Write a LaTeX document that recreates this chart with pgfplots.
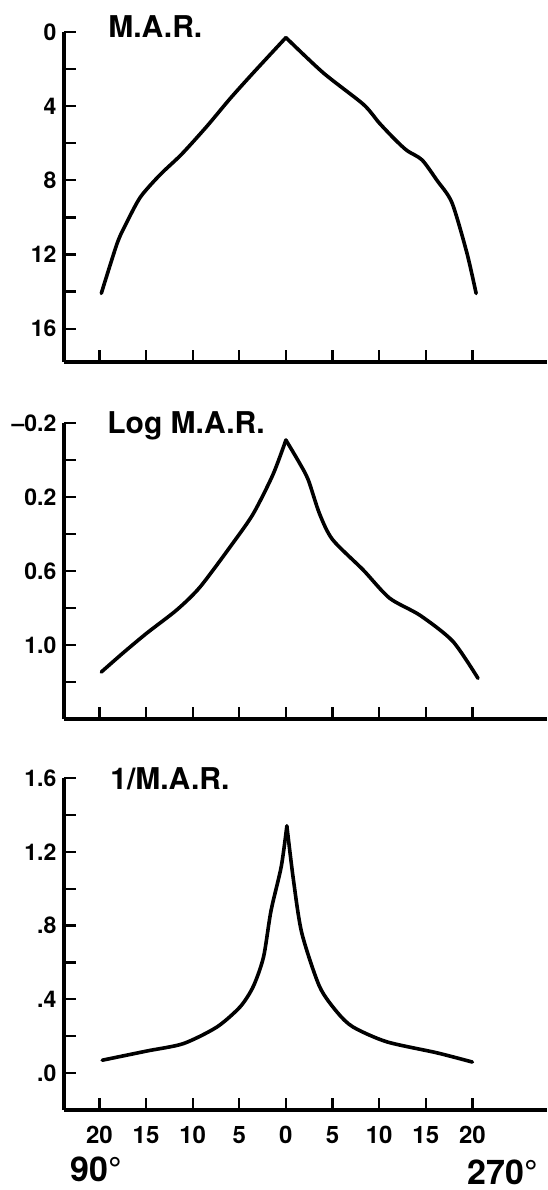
\documentclass[border=0pt]{standalone}
\usepackage{fontspec}
\setmainfont{TeX Gyre Heros}
\usepackage{pgfplots}
\pgfplotsset{compat=1.18}

% shared look of the three stacked panels (1px of the reference = 0.5pt)
\pgfplotsset{
  panel/.style={
    scale only axis, width=241.5pt,
    xmin=-23.8, xmax=28,
    axis y line*=left, axis x line*=bottom,
    xtick={-20,-15,...,20},
    tick align=inside,
    major tick length=6pt, minor tick length=6pt,
    tick style={black, line width=1.1pt},
    axis line style={line width=1.7pt},
    yticklabel style={font=\bfseries\fontsize{11.5}{11.5}\selectfont, xshift=-0.3pt},
    xticklabel style={font=\bfseries\fontsize{12}{12}\selectfont, yshift=-4.5pt},
    anchor=south west,
    clip=false,
  },
  % each half of a curve is smoothed on its own so the peak stays sharp
  curve/.style={black, line width=1.8pt, line join=round, line cap=round, no marks, smooth, tension=0.45},
}

\begin{document}
\begin{tikzpicture}
\useasboundingbox (0,0) rectangle (273.5pt,-595pt);

% --- M.A.R. ---
\begin{axis}[panel, at={(32pt,-181pt)}, height=165pt,
    y dir=reverse,
    ymin=0, ymax=17.8,
    ytick={0,4,8,12,16}, yticklabels={0,4,8,12,16},
    minor ytick={2,6,10,14},
    xticklabels={}]
  \addplot[curve] coordinates {
    (-19.8,14.1) (-18.1,11.4) (-17.1,10.3) (-15.6,8.9)
    (-13.5,7.7) (-11.2,6.6) (-8.5,5.1) (-6,3.6) (-3.5,2.2) (0,0.3)
  };
  \addplot[curve] coordinates {
    (0,0.3) (4,2.2) (8.3,3.9) (10,4.9) (11.7,5.8) (13,6.4) (14.6,6.9)
    (16.2,8.0) (17.8,9.2) (19.4,11.9) (20.4,14.1)
  };
\end{axis}

% --- Log M.A.R. ---
\begin{axis}[panel, at={(32pt,-359.5pt)}, height=148pt,
    y dir=reverse,
    ymin=-0.2, ymax=1.4,
    ytick={-0.2,0.2,0.6,1.0}, yticklabels={\textendash0.2,0.2,0.6,1.0},
    minor ytick={0,0.4,0.8,1.2},
    xticklabels={}]
  \addplot[curve] coordinates {
    (-19.8,1.146) (-17.4,1.04) (-14.9,0.935) (-11.7,0.81) (-9.2,0.686)
    (-5.7,0.45) (-3.5,0.29) (-1.4,0.08) (0,-0.108)
  };
  \addplot[curve] coordinates {
    (0,-0.108) (1.5,0.02) (2.4,0.108) (3.6,0.29) (5,0.43) (8.3,0.595)
    (11.1,0.746) (14.4,0.84) (17.9,0.98) (20.6,1.18)
  };
\end{axis}

% --- 1/M.A.R. ---
\begin{axis}[panel, at={(32pt,-555pt)}, height=166pt,
    ymin=-0.2, ymax=1.6,
    ytick={0,0.4,0.8,1.2,1.6}, yticklabels={.0,.4,.8,1.2,1.6},
    minor ytick={0.2,0.6,1.0,1.4},
    xticklabels={20,15,10,5,0,5,10,15,20}]
  \addplot[curve] coordinates {
    (-19.7,0.07) (-14.9,0.12) (-11,0.16) (-7.4,0.25) (-4.9,0.36)
    (-3.5,0.47) (-2.4,0.63) (-1.6,0.88) (-0.5,1.12) (0.1,1.34)
  };
  \addplot[curve] coordinates {
    (0.1,1.34) (0.8,1.05) (1.7,0.76) (3.6,0.47) (5.5,0.33) (7.2,0.25)
    (10.8,0.17) (16.2,0.11) (20,0.06)
  };
\end{axis}

% panel titles and the two meridians
\begin{scope}[font=\bfseries\fontsize{15}{15}\selectfont]
  \node[anchor=base west, inner sep=0] at (54pt,-18.5pt) {M.A.R.};
  \node[anchor=base west, inner sep=0] at (53.5pt,-216.5pt) {Log M.A.R.};
  \node[anchor=base west, inner sep=0] at (55pt,-394.5pt) {1/M.A.R.};
\end{scope}
\begin{scope}[font=\bfseries\fontsize{17}{17}\selectfont]
  \node[anchor=base west, inner sep=0] at (35pt,-590.5pt) {90°};
  \node[anchor=base east, inner sep=0] at (269pt,-592pt) {270°};
\end{scope}
\end{tikzpicture}
\end{document}
